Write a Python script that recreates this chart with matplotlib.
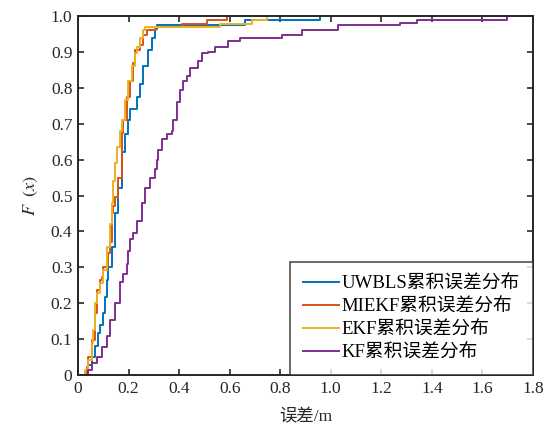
import numpy as np
import matplotlib
matplotlib.use("Agg")
import matplotlib.pyplot as plt

plt.rcParams['font.family'] = ['Liberation Serif', 'Noto Sans CJK SC']
plt.rcParams['mathtext.fontset'] = 'stix'
plt.rcParams['axes.unicode_minus'] = False

# 累积误差分布 (阶梯: 误差值, 跳变后的F值)
uwbls_x = [0, 0.021, 0.041, 0.054, 0.067, 0.080, 0.087, 0.100, 0.107, 0.114, 0.120, 0.133,
           0.146, 0.159, 0.173, 0.186, 0.199, 0.206, 0.232, 0.245, 0.258, 0.278, 0.292,
           0.305, 0.311, 0.661, 0.957]
uwbls_F = [0, 0.0, 0.028, 0.05, 0.08, 0.117, 0.14, 0.172, 0.218, 0.265, 0.30, 0.357,
           0.45, 0.52, 0.62, 0.67, 0.71, 0.74, 0.775, 0.81, 0.86, 0.905, 0.94,
           0.965, 0.975, 0.99, 1.0]

miekf_x = [0, 0.025, 0.034, 0.041, 0.054, 0.067, 0.074, 0.087, 0.094, 0.100, 0.120, 0.127,
           0.133, 0.140, 0.146, 0.159, 0.173, 0.179, 0.193, 0.206, 0.219, 0.225, 0.245,
           0.258, 0.271, 0.307, 0.41, 0.509, 0.588]
miekf_F = [0, 0.0, 0.023, 0.05, 0.097, 0.172, 0.237, 0.265, 0.274, 0.30, 0.34, 0.37,
           0.45, 0.47, 0.497, 0.55, 0.674, 0.71, 0.775, 0.82, 0.868, 0.905, 0.92,
           0.947, 0.961, 0.969, 0.979, 0.99, 1.0]

ekf_x = [0, 0.021, 0.028, 0.041, 0.054, 0.061, 0.067, 0.074, 0.087, 0.100, 0.114, 0.127,
         0.133, 0.140, 0.146, 0.153, 0.166, 0.173, 0.186, 0.199, 0.212, 0.225, 0.232,
         0.245, 0.258, 0.265, 0.562, 0.687, 0.746]
ekf_F = [0, 0.0, 0.014, 0.042, 0.089, 0.125, 0.2, 0.228, 0.256, 0.292, 0.357, 0.42,
         0.48, 0.54, 0.59, 0.636, 0.68, 0.71, 0.766, 0.82, 0.86, 0.896, 0.915,
         0.938, 0.961, 0.969, 0.979, 0.988, 1.0]

kf_x = [0, 0.028, 0.041, 0.054, 0.074, 0.094, 0.114, 0.127, 0.146, 0.166, 0.179, 0.193,
        0.199, 0.206, 0.219, 0.232, 0.252, 0.265, 0.285, 0.305, 0.311, 0.318, 0.331,
        0.351, 0.371, 0.377, 0.390, 0.403, 0.417, 0.430, 0.443, 0.476, 0.489, 0.515,
        0.542, 0.595, 0.641, 0.806, 0.885, 1.03, 1.274, 1.34, 1.696]
kf_F = [0, 0.0, 0.014, 0.033, 0.05, 0.079, 0.11, 0.153, 0.2, 0.26, 0.28, 0.31,
        0.345, 0.38, 0.395, 0.43, 0.48, 0.52, 0.55, 0.575, 0.60, 0.627, 0.657,
        0.672, 0.68, 0.71, 0.76, 0.795, 0.82, 0.832, 0.854, 0.875, 0.896, 0.90,
        0.915, 0.929, 0.938, 0.947, 0.961, 0.975, 0.98, 0.99, 1.0]

labels = ['UWBLS累积误差分布', 'MIEKF累积误差分布', 'EKF累积误差分布', 'KF累积误差分布']
colors = ['#0072BD', '#D95319', '#EDB120', '#7E2F8E']

xticks = [0, 0.2, 0.4, 0.6, 0.8, 1.0, 1.2, 1.4, 1.6, 1.8]
xticklabels = ['0', '0.2', '0.4', '0.6', '0.8', '1.0', '1.2', '1.4', '1.6', '1.8']
yticks = [0, 0.1, 0.2, 0.3, 0.4, 0.5, 0.6, 0.7, 0.8, 0.9, 1.0]
yticklabels = ['0', '0.1', '0.2', '0.3', '0.4', '0.5', '0.6', '0.7', '0.8', '0.9', '1.0']

fig = plt.figure(figsize=(5.51, 4.28), dpi=100)
ax = fig.add_axes([0.1416, 0.1238, 0.8256, 0.8388])

curves = [(uwbls_x, uwbls_F), (miekf_x, miekf_F), (ekf_x, ekf_F), (kf_x, kf_F)]
for (cx, cF), lab, col in zip(curves, labels, colors):
    ax.step(cx, cF, where='post', color=col, lw=1.4, label=lab)

ax.set_xlim(0, 1.8)
ax.set_ylim(0, 1.0)
ax.set_xticks(xticks)
ax.set_xticklabels(xticklabels)
ax.set_yticks(yticks)
ax.set_yticklabels(yticklabels)
ax.tick_params(direction='in', top=True, right=True, length=4, width=1.2,
               labelsize=12.5, color='#262626', labelcolor='#262626', pad=4)
for s in ax.spines.values():
    s.set_linewidth(1.4)
    s.set_color('#262626')

ax.set_xlabel('误差/m', fontsize=12.5, color='#262626', labelpad=9)
ax.set_ylabel(r'$F\ \ (x)$', fontsize=13, color='#262626', labelpad=8)

leg = ax.legend(loc='lower right', borderaxespad=0, fontsize=13.5, fancybox=False,
                handlelength=1.9, labelspacing=0.32, borderpad=0.7, handletextpad=0.15)
leg.get_frame().set_edgecolor('#262626')
leg.get_frame().set_linewidth(1.2)

fig.savefig('out.png', dpi=100)
